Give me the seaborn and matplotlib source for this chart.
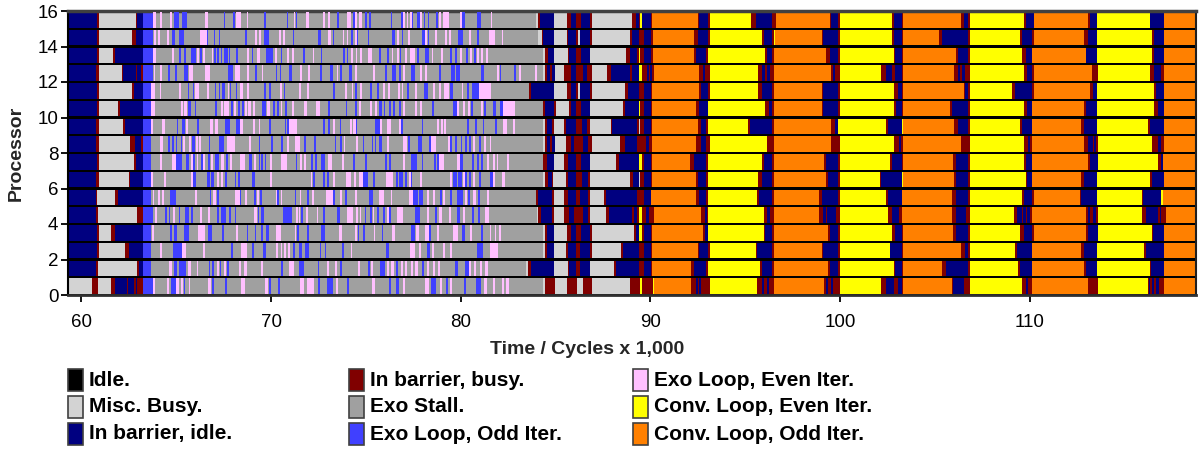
import matplotlib
matplotlib.use("Agg")
import matplotlib.pyplot as plt
import seaborn as sns
import pandas as pd
from matplotlib.patches import Rectangle

# ---------------- data ----------------
STATE_CODES = ["I", "M", "B", "R", "S", "O", "E", "Y", "C"]
STATE_LABELS = ["Idle.", "Misc. Busy.", "In barrier, idle.",
                "In barrier, busy.", "Exo Stall.", "Exo Loop, Odd Iter.",
                "Exo Loop, Even Iter.", "Conv. Loop, Even Iter.", "Conv. Loop, Odd Iter."]
STATE_COLORS = ["#000000", "#d3d3d3", "#000080", "#800000", "#a0a0a0",
                "#4040ff", "#ffc0ff", "#ffff00", "#ff8000"]

X_TICKS = [60, 70, 80, 90, 100, 110]
Y_TICKS = [0, 2, 4, 6, 8, 10, 12, 14, 16]
T_START = 59.0

# state runs per processor: "code end code end ..." (time in 1,000 cycles)
PROC_RUNS = [
    # 0
    "M 60.55 R 60.87 M 61.54 R 61.75 B 62.38 R 62.44 B 62.77 R 62.88 B 62.95 R 63.26 O 63.79 S 84.36 M 84.47 R 84.96 "
    "M 85.59 R 86.16 M 86.44 R 86.93 M 88.93 R 89.46 Y 89.57 R 90.13 Y 90.20 C 92.14 R 92.42 B 92.52 R 92.59 B 92.66 "
    "R 93.16 Y 95.62 R 95.90 B 96.00 R 96.14 B 96.25 R 96.53 C 99.17 R 99.27 B 99.38 R 99.52 B 99.62 R 100.01 Y 102.16 "
    "R 102.41 B 102.62 R 102.65 B 102.86 R 103.04 B 103.25 R 103.35 C 105.89 R 105.99 B 106.52 R 106.87 Y 109.61 "
    "R 109.79 B 109.90 R 110.14 C 113.10 R 113.62 Y 116.23 R 116.30 B 116.37 R 116.47 B 116.58 R 116.68 B 116.82 "
    "R 117.07 C 119.0",
    # 1
    "B 60.77 R 60.87 M 62.93 R 63.03 B 63.26 O 63.65 S 83.45 M 83.55 R 83.69 B 84.93 M 85.66 R 85.73 B 86.09 R 86.30 "
    "B 86.82 M 88.09 R 88.20 B 89.39 R 89.67 B 90.02 R 90.09 C 92.14 R 92.31 B 92.94 R 93.05 Y 95.79 R 95.90 B 96.43 "
    "R 96.53 C 99.38 R 99.48 B 99.91 R 100.01 Y 102.86 R 102.93 B 103.25 R 103.35 C 105.39 R 105.60 B 106.77 R 106.87 "
    "Y 109.37 R 109.51 B 110.11 R 110.14 C 112.85 R 112.96 B 113.55 Y 116.33 R 116.40 B 117.07 C 119.0",
    # 2
    "B 60.80 R 60.92 M 62.30 R 62.49 B 63.26 O 63.65 S 84.36 M 84.47 R 84.57 B 84.93 M 85.56 R 85.66 B 86.09 R 86.30 "
    "B 86.82 R 86.93 M 88.44 R 88.58 B 89.39 R 89.67 B 90.02 R 90.09 C 92.52 R 92.59 B 93.05 R 93.16 Y 95.55 R 95.65 "
    "B 96.43 R 96.53 C 99.03 R 99.13 B 99.91 R 100.01 Y 102.62 R 102.65 B 103.25 R 103.35 C 106.41 R 106.62 B 106.77 "
    "R 106.87 Y 109.26 R 109.33 B 110.11 C 112.74 R 112.85 B 113.55 Y 116.05 R 116.12 B 117.07 C 119.0",
    # 3
    "B 60.80 R 60.92 M 61.54 R 61.75 B 63.26 O 63.65 S 84.36 M 84.47 R 84.57 B 84.93 M 85.59 R 85.84 B 86.09 R 86.33 "
    "B 86.82 R 86.93 M 89.15 R 89.22 B 89.43 Y 89.57 R 89.67 B 90.02 R 90.09 C 92.77 R 92.91 B 93.05 Y 96.00 R 96.07 "
    "B 96.43 R 96.53 C 99.38 R 99.48 B 99.91 R 100.01 Y 102.76 R 102.93 B 103.25 R 103.35 C 105.99 R 106.13 B 106.77 "
    "R 106.87 Y 109.51 R 109.72 B 110.11 R 110.21 C 112.99 R 113.10 B 113.59 Y 116.44 R 116.51 B 117.07 C 119.0",
    # 4
    "B 60.77 R 60.87 M 62.93 R 63.26 O 63.79 S 84.04 M 84.10 R 84.26 B 84.82 R 84.93 M 85.45 R 85.73 B 85.98 R 86.47 "
    "B 86.72 R 86.82 M 87.67 R 87.84 B 89.04 R 89.15 B 89.32 R 89.43 Y 89.57 R 89.78 B 89.92 R 90.17 C 92.66 R 92.91 "
    "B 92.98 R 93.05 Y 96.00 R 96.14 B 96.32 R 96.53 C 98.92 R 99.13 B 99.27 R 99.34 B 99.80 R 100.01 Y 102.55 "
    "R 102.76 B 103.14 R 103.28 C 105.89 R 106.13 B 106.66 R 106.87 Y 109.16 R 109.33 B 109.61 R 109.68 B 109.79 "
    "R 109.86 B 110.00 R 110.14 C 112.96 R 113.06 B 113.20 R 113.34 B 113.48 R 113.59 Y 115.94 R 116.12 B 116.75 "
    "R 116.86 B 116.96 R 117.18 C 119.0",
    # 5
    "B 60.75 R 60.80 M 61.77 R 61.91 B 63.26 O 63.65 S 83.96 R 84.06 B 84.82 R 84.93 M 85.45 R 85.66 B 86.09 R 86.30 "
    "B 86.72 R 86.82 M 87.56 R 87.67 B 89.32 R 89.67 B 90.02 C 92.42 R 92.59 B 92.94 R 93.05 Y 95.62 R 95.72 B 96.43 "
    "R 96.53 C 98.92 R 99.03 B 99.91 R 100.01 Y 102.41 R 102.55 B 103.25 C 105.89 R 106.10 B 106.77 R 106.87 Y 109.61 "
    "R 109.72 B 110.11 R 110.21 C 112.64 R 112.74 B 113.55 Y 115.94 R 116.01 B 116.96 Y 117.03 C 119.0",
    # 6
    "B 60.77 R 60.92 M 62.49 R 62.54 B 63.26 O 63.65 S 84.36 M 84.47 R 84.61 B 84.82 R 84.89 M 85.56 R 85.66 B 86.09 "
    "R 86.40 B 86.72 R 86.82 M 88.93 R 89.11 B 89.39 M 89.46 R 89.67 B 90.02 R 90.09 C 92.42 R 92.52 B 92.94 R 93.05 "
    "Y 95.69 R 95.90 B 96.43 R 96.53 C 99.27 R 99.38 B 99.91 R 100.01 Y 102.12 R 102.19 B 103.25 Y 103.35 C 106.03 "
    "R 106.13 B 106.77 R 106.87 Y 109.82 R 109.89 B 110.11 C 112.74 R 112.85 B 113.55 Y 116.33 R 116.47 B 117.07 C 119.0",
    # 7
    "B 60.80 R 60.92 M 62.77 R 62.86 B 63.26 O 63.65 S 84.36 R 84.57 B 84.93 M 85.45 R 85.66 B 86.09 R 86.33 B 86.82 "
    "M 88.20 R 88.37 B 89.43 Y 89.57 R 89.67 B 90.02 R 90.09 C 92.07 R 92.28 B 92.94 R 93.05 Y 95.90 R 96.00 B 96.43 "
    "R 96.53 C 99.17 R 99.27 B 99.91 R 100.01 Y 102.62 R 102.76 B 103.25 R 103.35 C 105.99 R 106.10 B 106.77 R 106.87 "
    "Y 109.72 R 109.79 B 110.11 C 113.10 R 113.17 B 113.59 Y 116.75 R 116.96 B 117.03 C 119.0",
    # 8
    "B 60.77 R 60.92 M 62.56 R 62.82 B 63.12 R 63.26 O 63.65 S 84.36 M 84.47 R 84.57 B 84.71 R 84.82 B 84.96 M 85.56 "
    "R 85.84 B 85.98 R 86.47 B 86.72 R 86.93 M 88.41 R 88.69 B 89.32 R 89.78 B 89.95 R 90.09 C 92.42 R 92.70 B 92.94 "
    "R 93.16 Y 96.18 R 96.53 C 99.52 R 100.01 Y 102.83 R 103.14 B 103.21 R 103.35 C 106.41 R 106.87 Y 109.72 R 109.90 "
    "B 110.00 R 110.14 C 112.89 R 113.10 B 113.34 R 113.41 B 113.48 R 113.59 Y 116.47 R 116.75 B 116.96 R 117.07 C 119.0",
    # 9
    "B 60.77 R 60.92 M 62.19 R 62.30 B 63.23 O 63.65 S 84.36 M 84.47 R 84.57 B 84.82 R 84.93 M 85.45 R 85.56 B 86.09 "
    "R 86.40 B 86.68 R 86.82 M 87.95 R 87.98 B 89.32 R 89.39 M 89.46 R 89.67 B 90.02 R 90.09 C 92.52 R 92.70 B 92.94 "
    "R 93.05 Y 95.16 R 95.26 B 96.43 R 96.53 C 99.55 R 99.73 B 99.91 Y 102.41 R 102.55 B 103.25 Y 103.35 C 106.03 "
    "R 106.24 B 106.77 R 106.87 Y 109.51 R 109.61 B 110.11 C 112.74 R 112.85 B 113.55 Y 116.23 R 116.33 B 117.07 C 119.0",
    # 10
    "B 60.80 R 60.92 M 61.93 R 62.03 B 63.26 O 63.65 S 84.36 R 84.47 B 84.93 R 85.03 M 85.73 R 85.84 B 86.09 R 86.33 "
    "B 86.82 M 88.58 R 88.69 B 89.39 Y 89.46 R 89.67 B 90.02 R 90.09 C 92.42 R 92.59 B 93.05 Y 96.07 R 96.28 B 96.43 "
    "R 96.53 C 99.03 R 99.13 B 99.91 R 100.01 Y 102.86 R 102.97 B 103.25 R 103.35 C 105.78 R 105.89 B 106.77 R 106.87 "
    "Y 109.72 R 109.86 B 110.11 C 112.85 R 112.99 B 113.55 Y 116.58 R 116.75 B 117.07 C 119.0",
    # 11
    "B 60.80 R 60.92 M 62.66 R 62.75 B 63.26 O 63.65 S 83.59 R 83.73 B 84.93 M 85.59 R 85.84 B 86.09 R 86.19 M 86.30 "
    "B 86.82 R 86.93 M 88.69 R 88.83 B 89.43 R 89.67 B 90.02 R 90.09 C 92.59 R 92.70 B 93.05 R 93.16 Y 95.69 R 95.90 "
    "B 96.43 R 96.53 C 99.03 R 99.13 B 99.91 R 100.01 Y 102.86 R 103.04 B 103.25 R 103.35 C 106.52 R 106.62 B 106.77 "
    "R 106.87 Y 109.09 R 109.26 B 110.11 R 110.21 C 113.20 R 113.34 B 113.55 Y 116.58 R 116.68 B 117.07 C 119.0",
    # 12
    "B 60.77 R 60.92 M 62.14 R 62.19 B 62.88 R 62.95 B 63.12 R 63.26 O 63.75 S 83.94 E 84.05 S 84.36 M 84.43 R 84.57 "
    "B 84.71 R 84.82 B 84.96 M 85.45 R 85.84 B 86.09 R 86.44 B 86.68 R 86.93 M 87.74 R 87.95 B 88.93 R 89.04 B 89.43 "
    "Y 89.57 R 89.81 B 89.92 R 89.99 B 90.09 R 90.17 C 92.59 R 92.77 B 92.91 R 93.16 Y 95.69 R 95.90 B 96.07 R 96.14 "
    "B 96.32 R 96.53 C 99.52 R 99.62 B 99.73 R 100.01 Y 102.16 R 102.41 B 102.76 R 102.93 B 103.25 R 103.35 C 106.03 "
    "R 106.24 B 106.34 R 106.45 B 106.62 R 106.87 Y 109.72 R 109.86 B 110.11 R 110.21 C 113.27 R 113.62 Y 116.33 "
    "R 116.58 B 116.93 R 117.07 C 119.0",
    # 13
    "B 60.84 R 60.92 M 61.64 R 61.77 B 63.26 O 63.79 S 84.36 M 84.47 R 84.61 B 84.93 M 85.66 R 85.73 B 86.09 R 86.33 "
    "B 86.82 M 88.72 R 88.93 B 89.32 R 89.39 Y 89.46 R 89.67 B 90.02 R 90.13 C 92.31 R 92.42 B 92.94 R 93.05 Y 96.07 "
    "R 96.14 B 96.43 R 96.53 C 99.27 R 99.48 B 99.91 R 100.01 Y 102.86 R 102.93 B 103.25 R 103.35 C 106.13 R 106.24 "
    "B 106.77 R 106.87 Y 109.61 R 109.79 B 110.11 R 110.14 C 112.96 B 113.55 Y 116.47 R 116.58 B 117.07 C 119.0",
    # 14
    "B 60.80 R 60.92 M 62.66 R 62.88 B 63.26 O 63.75 S 84.08 M 84.29 R 84.36 B 84.93 M 85.59 R 85.66 B 86.09 R 86.19 "
    "M 86.30 B 86.82 R 86.93 M 88.93 R 89.04 B 89.43 R 89.67 B 90.02 R 90.13 C 92.31 R 92.52 B 93.05 R 93.16 Y 95.90 "
    "R 96.00 B 96.43 R 96.50 Y 96.57 C 99.03 R 99.13 B 99.91 R 100.01 Y 102.76 R 102.86 B 103.25 R 103.35 C 105.22 "
    "R 105.39 B 106.77 R 106.87 Y 109.51 R 109.62 B 110.11 R 110.21 C 112.89 R 113.10 B 113.55 Y 116.47 R 116.58 "
    "B 117.07 C 119.0",
    # 15
    "B 60.80 R 60.92 M 62.87 R 62.93 B 63.26 O 63.79 S 83.98 M 84.08 R 84.19 B 84.93 M 85.59 R 85.84 B 86.09 R 86.33 "
    "B 86.82 R 86.93 M 89.04 R 89.22 B 89.43 R 89.46 Y 89.57 B 90.02 R 90.09 C 92.52 R 92.59 B 93.05 R 93.16 Y 95.30 "
    "R 95.55 B 96.43 R 96.64 C 99.48 R 99.55 B 99.91 R 100.01 Y 102.76 R 102.86 B 103.25 R 103.35 C 106.41 R 106.52 "
    "B 106.77 R 106.87 Y 109.72 R 109.83 B 110.21 C 113.10 R 113.17 B 113.55 Y 116.33 B 117.07 C 119.0",
]

# short Exo-loop iterations on top of the Exo-stall runs: "code start/duration"
PROC_STRIPES = [
    # 0
    "E63.79/.1 E64.53/.1 O64.74/.25 E64.98/.14 E65.27/.1 O65.41/.07 E65.65/.1 E66.67/.18 O66.88/.1 O67.59/.1 "
    "E68.39/.21 E69.70/.14 O69.87/.1 O70.36/.1 E71.52/.21 E71.88/.39 O72.47/.1 O72.97/.32 E73.42/.1 O74.02/.1 "
    "E75.32/.14 O76.20/.14 O76.59/.14 E76.98/.1 E78.14/.18 O78.42/.28 E78.91/.1 O79.23/.1 E79.44/.1 O80.18/.1 "
    "O80.81/.25 E81.23/.18 E81.72/.1 E82.18/.1 E82.39/.14",
    # 1
    "E64.63/.14 O64.88/.14 O65.12/.39 E65.62/.14 E66.07/.1 O66.71/.07 O66.88/.1 E67.16/.1 O67.30/.07 E67.52/.1 "
    "O67.66/.1 E68.32/.1 E68.57/.18 E69.48/.1 O70.54/.1 E70.96/.25 O71.49/.25 O72.47/.07 E72.93/.14 E73.39/.07 "
    "O73.63/.1 E74.58/.1 O74.59/.08 O75.11/.1 E75.25/.1 O75.75/.25 E76.10/.1 E76.34/.14 O76.59/.1 E76.84/.1 "
    "E77.05/.1 E77.36/.14 E77.61/.14 O77.96/.1 E78.21/.1 E78.52/.1 E78.80/.1 O79.68/.18 O80.21/.21 E80.46/.1 "
    "E80.70/.1 E81.02/.1 E81.27/.18",
    # 2
    "E64.14/.1 O64.84/.46 E65.30/.21 E66.39/.1 O67.87/.1 E68.39/.35 O68.99/.1 O69.59/.14 E70.26/.1 E70.50/.07 "
    "E70.68/.1 E70.89/.1 O71.14/.1 O71.49/.14 O71.80/.18 O72.58/.07 O72.82/.07 O73.74/.1 E74.20/.07 O76.06/.14 "
    "E77.33/.28 E77.79/.1 O78.21/.18 E78.49/.1 E79.09/.07 E79.44/.1 O80.84/.32 E81.55/.42",
    # 3
    "E63.70/.1 O64.67/.1 O64.88/.14 O65.41/.25 E66.14/.35 O66.67/.21 O67.41/.1 E68.15/.1 O68.71/.07 O69.13/.1 "
    "O69.48/.1 O69.73/.14 E70.26/.25 E71.24/.07 O71.35/.1 O71.88/.1 O72.65/.21 E73.56/.18 E74.44/.07 O74.59/.07 "
    "O74.87/.1 E75.43/.07 O75.85/.07 E76.38/.18 O77.40/.21 E77.65/.14 E78.14/.18 O78.31/.1 E78.77/.07 E79.61/.25 "
    "O80.07/.14 E80.49/.1 O81.09/.07 E81.55/.07 E81.79/.07 E82.01/.1",
    # 4
    "E63.90/.1 O64.42/.1 O64.60/.07 E64.84/.1 O65.12/.1 O65.48/.21 O65.76/.1 E66.25/.1 E66.67/.1 O67.13/.1 "
    "O67.34/.28 O67.80/.07 O68.08/.07 E69.10/.18 O69.31/.07 O69.45/.18 O70.61/.49 E71.31/.1 E71.45/.07 O71.59/.07 "
    "E71.84/.1 E72.40/.1 O72.72/.1 O73.46/.18 E74.02/.32 E74.48/.1 E74.69/.07 O74.94/.07 O75.22/.1 E75.36/.07 "
    "O75.57/.1 O75.89/.1 E76.10/.1 O76.24/.1 E76.63/.35 O77.61/.25 E78.21/.1 O78.66/.1 E78.88/.14 E79.37/.1 "
    "O79.79/.18 E80.14/.1 O80.60/.1 O80.91/.1 E81.30/.18",
    # 5
    "E63.75/.1 E64.02/.12 E64.25/.1 O64.67/.32 E66.00/.07 O66.78/.07 E66.95/.14 O67.13/.1 E68.11/.25 O68.36/.07 "
    "E68.64/.1 O69.10/.1 E69.27/.07 O69.41/.1 E70.26/.07 O70.33/.07 E70.50/.1 O71.24/.1 E71.52/.07 O71.88/.1 "
    "E72.16/.1 E72.89/.39 O73.28/.07 E73.63/.1 O73.91/.1 E74.45/.07 O75.18/.18 E75.68/.25 E76.31/.07 E77.29/.18 "
    "O77.47/.28 O77.82/.18 E78.21/.1 E78.56/.1 O78.91/.1 E79.09/.1 O79.44/.1 O79.79/.1 O79.93/.21 E80.25/.1 "
    "O80.39/.1 E80.67/.14 O80.91/.1 E81.41/.1",
    # 6
    "E63.65/.1 E64.35/.1 E65.79/.1 O65.90/.12 O66.60/.18 O66.85/.14 E67.13/.1 E67.34/.1 O67.59/.07 O68.08/.07 "
    "O68.25/.1 O68.99/.14 E69.94/.1 E72.09/.07 O72.19/.14 O72.72/.1 O72.97/.1 E73.28/.1 E73.95/.25 E74.37/.1 "
    "E74.62/.21 O74.83/.28 O75.36/.1 E76.06/.35 O76.59/.1 O76.73/.21 O77.08/.1 E77.26/.1 O77.36/.07 E77.86/.1 "
    "E79.44/.1 O79.58/.25 O79.86/.21 E80.14/.1 O80.25/.1 O80.46/.1 E80.67/.1 O80.95/.14 O81.55/.14 E81.69/.1 "
    "E82.18/.14",
    # 7
    "E64.14/.09 E64.77/.21 O64.98/.32 O65.51/.18 E65.76/.1 O65.90/.1 E66.07/.1 O66.29/.1 E66.43/.1 O66.67/.1 "
    "E66.81/.14 O67.06/.21 E67.34/.18 O67.62/.1 E67.83/.1 E68.36/.28 O68.85/.14 E69.10/.1 O69.34/.07 O69.48/.07 "
    "O69.66/.07 E69.94/.1 E70.50/.32 O71.31/.07 E71.52/.1 E71.73/.1 O72.12/.1 O72.33/.1 O72.65/.21 E73.00/.21 "
    "E73.74/.1 O74.34/.1 O74.97/.1 O76.03/.1 O76.24/.1 E76.94/.1 O77.40/.28 O77.96/.07 O78.59/.1 O78.77/.1 "
    "E78.88/.25 E79.79/.18 O79.97/.14 O80.60/.1 O80.84/.1 O81.09/.1 E81.37/.1 E81.69/.1 E81.90/.07 E82.43/.1",
    # 8
    "E64.14/.18 O64.58/.09 O64.77/.1 O64.98/.07 O65.23/.07 E65.34/.1 E65.69/.1 O65.83/.14 E66.04/.1 E66.21/.1 "
    "O66.71/.07 O67.23/.28 E67.66/.46 E68.85/.1 O69.34/.1 O70.01/.1 O70.54/.07 E70.86/.07 E71.24/.28 O71.73/.1 "
    "O72.26/.1 O73.35/.1 O73.63/.1 E73.84/.07 E74.48/.1 O74.83/.07 O75.32/.07 O75.46/.1 O75.71/.14 E76.10/.1 "
    "E76.94/.25 O77.22/.1 O77.75/.21 O78.35/.07 E78.42/.28 E79.33/.1 O79.44/.1 O79.72/.1 O80.00/.07 O80.25/.1 "
    "O80.46/.07 E80.67/.1 O80.95/.1 E81.23/.1 E81.55/.07",
    # 9
    "E63.65/.1 E64.23/.16 O65.02/.07 O65.30/.18 E65.51/.1 O66.11/.1 E66.78/.18 E67.04/.18 O67.59/.25 O68.15/.21 "
    "E68.36/.18 E69.06/.07 E69.34/.07 O69.91/.07 O70.71/.1 O70.86/.07 E70.96/.39 O72.75/.07 O73.00/.1 E73.28/.07 "
    "O73.63/.07 E74.16/.09 E74.34/.14 O74.42/.09 O75.48/.26 E75.75/.1 E76.10/.21 E76.73/.1 O76.84/.1 O77.94/.09 "
    "E78.73/.1 E78.95/.1 E79.12/.1 O80.32/.14 O80.77/.07 O81.16/.07 O81.83/.1 E82.22/.21 E82.78/.1",
    # 10
    "E63.65/.23 E65.23/.1 E65.41/.18 O65.62/.14 O65.97/.07 O67.06/.1 E67.34/.14 E67.52/.28 O67.87/.1 E68.04/.1 "
    "O68.25/.1 O68.46/.1 E68.62/.12 E68.80/.12 E69.06/.1 O69.52/.21 E69.80/.14 O70.12/.1 O70.33/.1 E70.50/.1 "
    "O70.75/.1 E71.10/.1 E71.73/.14 E72.37/.21 O73.00/.1 O73.95/.07 O74.41/.1 E74.66/.1 E75.22/.1 E75.50/.1 "
    "O75.71/.14 O75.96/.07 O76.20/.1 O76.41/.1 O76.73/.1 E76.94/.1 E77.61/.1 E77.86/.1 O78.49/.1 O79.58/.21 "
    "E79.82/.1 E80.11/.1 E80.39/.1 O80.56/.1 E81.06/.14 O81.23/.1 O81.69/.18 O82.08/.18 E82.25/.6",
    # 11
    "E63.65/.24 E64.14/.07 E65.16/.1 O65.62/.07 O65.86/.1 E65.97/.25 E66.60/.1 O67.02/.1 O67.23/.1 O67.41/.18 "
    "E67.73/.07 O67.83/.07 O68.15/.07 E68.36/.18 E68.75/.1 O69.62/.1 O69.91/.07 E70.47/.1 O70.68/.07 E71.49/.1 "
    "E71.88/.1 O73.25/.1 E73.90/.12 E74.25/.09 O74.42/.09 E74.69/.1 O75.22/.1 O75.57/.1 E75.92/.1 E76.19/.09 "
    "E76.71/.09 E76.89/.09 O77.19/.07 E77.59/.09 O78.07/.18 E78.52/.1 E78.88/.1 E79.12/.25 O79.44/.14 E80.07/.07 "
    "O80.32/.1 O80.60/.35 E80.95/.32 E81.30/.28",
    # 12
    "E63.80/.1 E64.14/.1 O64.58/.09 O64.95/.07 O65.41/.21 E65.65/.21 E66.51/.26 O67.73/.25 E68.10/.26 E68.75/.07 "
    "O69.15/.09 E69.50/.09 O70.26/.07 O70.47/.07 O70.96/.14 E71.52/.1 E71.96/.09 O72.58/.1 O73.11/.14 E73.46/.09 "
    "O73.63/.1 O74.09/.18 E74.42/.09 E75.36/.1 O75.99/.1 O76.38/.21 O76.77/.1 E76.98/.1 O77.38/.23 E77.86/.1 "
    "E78.14/.1 O78.84/.1 O79.47/.25 O79.75/.21 O81.06/.18 E81.90/.14 O82.08/.05 O82.81/.1 E83.06/.1",
    # 13
    "E63.79/.12 E64.77/.1 O65.16/.1 O65.41/.1 O65.77/.26 E66.11/.1 O66.25/.09 E66.39/.1 E66.87/.09 O66.99/.1 "
    "O67.16/.1 O67.34/.07 O67.52/.21 O67.76/.07 O68.15/.1 E68.75/.09 O68.97/.09 E69.27/.14 O69.73/.35 E70.22/.1 "
    "O70.50/.1 E70.82/.1 E71.10/.1 O71.70/.1 E72.19/.1 O72.61/.1 O73.81/.1 O73.98/.1 E74.20/.14 E74.48/.07 "
    "E74.69/.1 E75.13/.19 O75.71/.07 O76.13/.1 E76.36/.09 E76.66/.07 O76.80/.07 E77.07/.09 E77.33/.28 O77.68/.1 "
    "O78.14/.21 E78.47/.09 E78.95/.1 O79.44/.1 O79.72/.1 E79.97/.1 O80.28/.1 E80.49/.1 O80.70/.1 E80.84/.1 "
    "E81.06/.1 E81.34/.1",
    # 14
    "E63.84/.07 E64.02/.1 E64.53/.1 O64.77/.14 O65.16/.25 E66.25/.35 O66.64/.05 O66.99/.07 O67.27/.05 O68.64/.1 "
    "E69.15/.09 E69.38/.07 O69.62/.26 E70.42/.09 E70.64/.1 O71.14/.09 O72.47/.16 E73.02/.16 O73.28/.05 E73.77/.09 "
    "E73.98/.1 O74.23/.07 E74.44/.07 O74.52/.06 O75.13/.05 O76.38/.18 E76.66/.07 O76.89/.05 E77.24/.09 O77.94/.19 "
    "E78.14/.09 O78.26/.09 E78.65/.09 E79.17/.09 E79.40/.07 O79.84/.26 E80.42/.1 O80.88/.07 E81.51/.28 E82.16/.07",
    # 15
    "E63.79/.12 E64.14/.09 E64.67/.09 O64.88/.25 O65.30/.28 E66.51/.14 O67.52/.07 O68.01/.07 E68.15/.25 E68.75/.05 "
    "O69.63/.1 O70.82/.05 E71.22/.05 O71.31/.07 E71.84/.14 E72.75/.09 E73.02/.09 O73.46/.1 E73.98/.23 O74.30/.1 "
    "E74.43/.09 E74.66/.12 O74.95/.09 O75.18/.07 O76.33/.05 O76.85/.09 E76.98/.09 E77.15/.09 E77.33/.09 O77.42/.09 "
    "O77.68/.18 E77.86/.09 O78.07/.05 O78.30/.05 O78.70/.12 E78.88/.07 E79.05/.35 E79.97/.09 O80.07/.16 O80.84/.21 "
    "E81.58/.09",
]

# ---------------- build segment table ----------------
records = []
for proc, run in enumerate(PROC_RUNS):
    toks = run.split()
    t0 = T_START
    for code, end in zip(toks[0::2], toks[1::2]):
        end = float(end)
        records.append((proc, t0, end - t0, code, 0))
        t0 = end
for proc, stripes in enumerate(PROC_STRIPES):
    for tok in stripes.split():
        code = tok[0]
        s, w = tok[1:].split("/")
        records.append((proc, float(s), float(w), code, 1))
seg = pd.DataFrame(records, columns=["proc", "start", "dur", "code", "layer"])

# ---------------- draw ----------------
sns.set_theme(style="white")
plt.rcParams["font.family"] = ["Liberation Sans", "DejaVu Sans"]

W, H = 1201, 455
fig = plt.figure(figsize=(W / 100, H / 100), dpi=100)
ax = fig.add_axes([68 / W, 1 - 295 / H, (1196 - 68) / W, 284 / H])
ax.set_facecolor("#000000")

color_of = dict(zip(STATE_CODES, STATE_COLORS))
for layer in (0, 1):
    for code in STATE_CODES:
        sub = seg[(seg.layer == layer) & (seg.code == code)]
        if len(sub):
            ax.barh(sub.proc + 0.5, sub.dur, left=sub.start, height=0.86,
                    color=color_of[code], linewidth=0, antialiased=False,
                    zorder=2 + layer)

ax.set_xlim(59.29, 118.78)
ax.set_ylim(0, 16)
ax.set_xticks(X_TICKS)
ax.set_yticks(Y_TICKS)
ax.tick_params(axis="both", which="both", direction="out", length=5, width=1.3,
               color="black", labelsize=13.5, labelcolor="black")
ax.tick_params(axis="x", pad=9)
ax.tick_params(axis="y", pad=2)
ax.tick_params(left=True, bottom=True)
for side, col, lw in [("left", "#000000", 1.5), ("bottom", "#303030", 2.0),
                      ("top", "#404040", 2.5), ("right", "#202020", 1.5)]:
    ax.spines[side].set_visible(True)
    ax.spines[side].set_color(col)
    ax.spines[side].set_linewidth(lw)

ax.set_xlabel("Time / Cycles x 1,000", fontsize=14, fontweight="bold")
ax.xaxis.set_label_coords((587 - 68) / (1196 - 68), -(341 - 295) / 284)
ax.xaxis.label.set_va("top")
ax.set_ylabel("Processor", fontsize=14, fontweight="bold")
ax.yaxis.set_label_coords(-(68 - 25) / (1196 - 68), 0.5)

# ---------------- legend ----------------
col_x = [68, 349, 633]
row_y = [380, 407, 434]
box_w, box_h = 15, 22
for k, (lab, colr) in enumerate(zip(STATE_LABELS, STATE_COLORS)):
    c, r = divmod(k, 3)
    x0 = col_x[c]
    yc = row_y[r]
    fig.add_artist(Rectangle((x0 / W, 1 - (yc + box_h / 2) / H), box_w / W, box_h / H,
                             transform=fig.transFigure, facecolor=colr,
                             edgecolor="#404040", linewidth=1.2))
    fig.text((x0 + box_w + 6) / W, 1 - yc / H, lab, fontsize=15, fontweight="bold",
             ha="left", va="center", color="black")

fig.savefig("out.png", dpi=100)
